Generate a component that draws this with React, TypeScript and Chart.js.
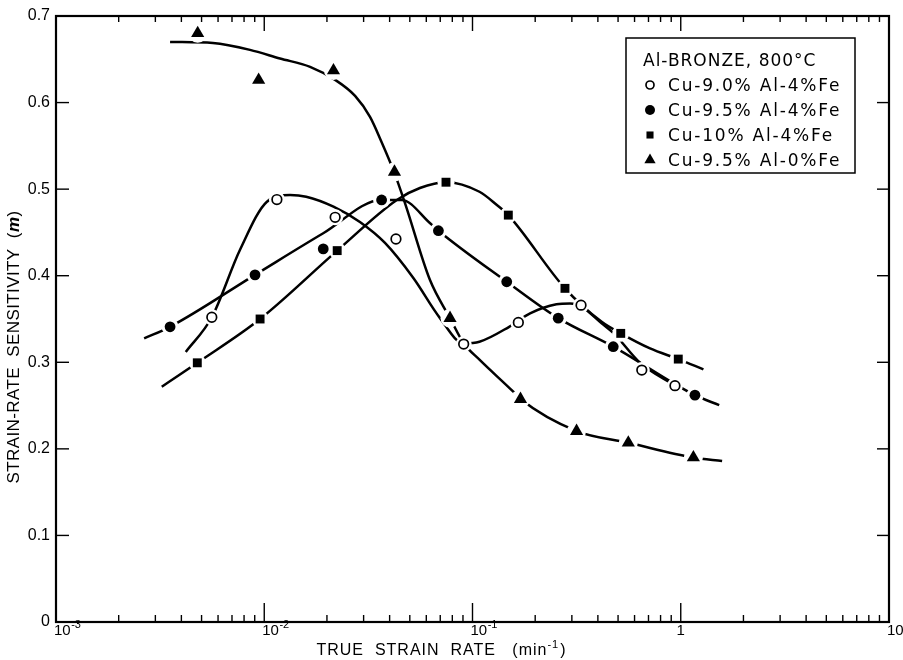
import React, { useEffect, useRef } from 'react';
import { Chart, registerables } from 'chart.js';
import { drawPoint } from 'chart.js/helpers';

Chart.register(...registerables);

// ---------- data ----------
// Cu-9.0% Al-4%Fe (open circles)
const openX = [0.0056, 0.0115, 0.0219, 0.0429, 0.0907, 0.166, 0.332, 0.65, 0.938];
const openY = [0.352, 0.488, 0.4675, 0.4424, 0.321, 0.346, 0.366, 0.291, 0.273];
const openCurveX = [0.0042, 0.0056, 0.00765, 0.0103, 0.0133, 0.0159, 0.0215, 0.0288, 0.038, 0.052, 0.0698, 0.0907, 0.108, 0.15, 0.189, 0.253, 0.294, 0.332, 0.353, 0.417, 0.474, 0.64, 0.938];
const openCurveY = [0.312, 0.352, 0.43, 0.4855, 0.4933, 0.4913, 0.4798, 0.462, 0.4378, 0.3973, 0.351, 0.3218, 0.3237, 0.341, 0.3565, 0.367, 0.368, 0.366, 0.3604, 0.345, 0.334, 0.299, 0.273];

// Cu-9.5% Al-4%Fe (filled circles)
const filledX = [0.00353, 0.00903, 0.0192, 0.0366, 0.0686, 0.146, 0.258, 0.474, 1.17];
const filledY = [0.341, 0.401, 0.431, 0.4875, 0.452, 0.393, 0.351, 0.318, 0.262];
const filledCurveX = [0.00265, 0.00353, 0.00903, 0.0192, 0.0366, 0.0457, 0.0626, 0.0686, 0.146, 0.258, 0.474, 1.17, 1.53];
const filledCurveY = [0.3276, 0.341, 0.401, 0.449, 0.4875, 0.4875, 0.4606, 0.452, 0.393, 0.351, 0.318, 0.262, 0.2505];

// Cu-10% Al-4%Fe (squares)
const squareX = [0.00477, 0.00955, 0.0224, 0.0746, 0.1486, 0.278, 0.515, 0.973];
const squareY = [0.2994, 0.35, 0.429, 0.508, 0.47, 0.3854, 0.3334, 0.3037];
const squareCurveX = [0.00322, 0.00477, 0.00955, 0.0224, 0.0433, 0.0559, 0.0746, 0.108, 0.1305, 0.1486, 0.278, 0.417, 0.515, 0.712, 0.973, 1.285];
const squareCurveY = [0.2717, 0.2994, 0.35, 0.429, 0.4875, 0.5013, 0.508, 0.497, 0.482, 0.47, 0.3854, 0.3467, 0.3334, 0.316, 0.3037, 0.2918];

// Cu-9.5% Al-0%Fe (triangles)
const triX = [0.00479, 0.0094, 0.0215, 0.0422, 0.078, 0.17, 0.316, 0.56, 1.15];
const triY = [0.68, 0.626, 0.637, 0.52, 0.351, 0.2575, 0.2205, 0.207, 0.19];
const triCurveX = [0.00353, 0.00567, 0.00854, 0.0119, 0.0166, 0.0219, 0.0273, 0.0322, 0.0364, 0.042, 0.0474, 0.0625, 0.078, 0.0907, 0.108, 0.157, 0.17, 0.316, 0.56, 1.15, 1.58];
const triCurveY = [0.67, 0.6687, 0.6609, 0.6509, 0.6413, 0.6262, 0.6077, 0.5835, 0.5557, 0.5199, 0.4839, 0.395, 0.351, 0.322, 0.303, 0.266, 0.2575, 0.2205, 0.207, 0.19, 0.186];

const legendTitle = 'Al-BRONZE, 800°C';
const legendLabels = ['Cu-9.0% Al-4%Fe', 'Cu-9.5% Al-4%Fe', 'Cu-10% Al-4%Fe', 'Cu-9.5% Al-0%Fe'];

// axis ticks
const xDecades = [0.001, 0.01, 0.1, 1, 10];
const xMinorSteps = [2, 3, 4, 5, 6, 7, 8, 9];
const xTickBases = ['10', '10', '10', '1', '10'];
const xTickPowers = ['-3', '-2', '-1', '', ''];
const yMin = 0;
const yMax = 0.7;
const yStep = 0.1;

const xTitleMain = 'TRUE  STRAIN  RATE   (min';
const xTitleSup = '-1';
const xTitleEnd = ')';
const yTitleMain = 'STRAIN-RATE  SENSITIVITY  (';
const yTitleVar = 'm';
const yTitleEnd = ')';

// ---------- styles ----------
const FONT = '"Liberation Sans", Arial, sans-serif';
const LEGEND_FONT = '"DejaVu Sans", "Liberation Sans", sans-serif';

const pts = (xs: number[], ys: number[]) => xs.map((x, i) => ({ x, y: ys[i] }));

const seriesDefs = [
  { label: legendLabels[0], mx: openX, my: openY, cx: openCurveX, cy: openCurveY, pointStyle: 'circle', radius: 4.8, bg: '#fff', bw: 1.7, halo: 8, legR: 4 },
  { label: legendLabels[1], mx: filledX, my: filledY, cx: filledCurveX, cy: filledCurveY, pointStyle: 'circle', radius: 5.4, bg: '#000', bw: 0, halo: 8.5, legR: 5 },
  { label: legendLabels[2], mx: squareX, my: squareY, cx: squareCurveX, cy: squareCurveY, pointStyle: 'rect', radius: 6.3, bg: '#000', bw: 0, halo: 8.5, legR: 5 },
  { label: legendLabels[3], mx: triX, my: triY, cx: triCurveX, cy: triCurveY, pointStyle: 'triangle', radius: 7.6, bg: '#000', bw: 0, halo: 9.5, legR: 6.5 },
];

const paperPlugin = {
  id: 'paper',
  afterDraw(chart: any) {
    const { ctx, chartArea: a } = chart;
    const x = chart.scales.x;
    const y = chart.scales.y;
    ctx.save();
    ctx.strokeStyle = '#000';
    ctx.fillStyle = '#000';
    // frame
    ctx.lineWidth = 2.2;
    ctx.strokeRect(a.left, a.top, a.right - a.left, a.bottom - a.top);

    const line = (x1: number, y1: number, x2: number, y2: number) => {
      ctx.beginPath();
      ctx.moveTo(x1, y1);
      ctx.lineTo(x2, y2);
      ctx.stroke();
    };

    // x ticks (inward, bottom and top)
    ctx.lineWidth = 1.4;
    x.ticks.forEach((t: any) => {
      if (t.value <= x.min || t.value >= x.max) return;
      const px = x.getPixelForValue(t.value);
      const lb = t.major ? 19 : 7;
      const lt = t.major ? 15 : 6;
      line(px, a.bottom, px, a.bottom - lb);
      line(px, a.top, px, a.top + lt);
    });
    // y ticks (inward, left and right)
    y.ticks.forEach((t: any) => {
      if (t.value <= y.min + 1e-9 || t.value >= y.max - 1e-9) return;
      const py = y.getPixelForValue(t.value);
      line(a.left, py, a.left + 13, py);
      line(a.right, py, a.right - 12, py);
    });

    // x tick labels with superscripts
    ctx.textBaseline = 'alphabetic';
    ctx.textAlign = 'left';
    xDecades.forEach((v, i) => {
      const px = x.getPixelForValue(v);
      const base = xTickBases[i];
      const pow = xTickPowers[i];
      ctx.font = `15px ${FONT}`;
      const w = ctx.measureText(base).width;
      const x0 = base.length === 1 ? px - w / 2 : px - 2;
      ctx.fillText(base, x0, a.bottom + 13);
      if (pow) {
        ctx.font = `11px ${FONT}`;
        ctx.fillText(pow, x0 + w + 0.5, a.bottom + 6);
      }
    });

    // x title
    ctx.font = `16px ${FONT}`;
    (ctx as any).letterSpacing = '1px';
    const wMain = ctx.measureText(xTitleMain).width;
    const wEnd = ctx.measureText(xTitleEnd).width;
    ctx.font = `11px ${FONT}`;
    const wSup = ctx.measureText(xTitleSup).width;
    const total = wMain + wSup + wEnd + 1;
    let tx = 441.5 - total / 2;
    const ty = a.bottom + 33;
    ctx.font = `16px ${FONT}`;
    ctx.fillText(xTitleMain, tx, ty);
    tx += wMain;
    ctx.font = `11px ${FONT}`;
    ctx.fillText(xTitleSup, tx, ty - 7);
    tx += wSup + 1;
    ctx.font = `16px ${FONT}`;
    ctx.fillText(xTitleEnd, tx, ty);

    // y title (rotated)
    ctx.save();
    ctx.translate(14, 347);
    ctx.rotate(-Math.PI / 2);
    ctx.textBaseline = 'middle';
    (ctx as any).letterSpacing = '0.4px';
    ctx.font = `17px ${FONT}`;
    const w1 = ctx.measureText(yTitleMain).width;
    const w3 = ctx.measureText(yTitleEnd).width;
    ctx.font = `italic bold 17px ${FONT}`;
    const w2 = ctx.measureText(yTitleVar).width;
    let yx = -(w1 + w2 + w3) / 2;
    ctx.font = `17px ${FONT}`;
    ctx.fillText(yTitleMain, yx, 0);
    yx += w1;
    ctx.font = `italic bold 17px ${FONT}`;
    ctx.fillText(yTitleVar, yx, 0);
    yx += w2;
    ctx.font = `17px ${FONT}`;
    ctx.fillText(yTitleEnd, yx, 0);
    ctx.restore();

    // legend box
    const bx = a.right - 263;
    const by = a.top + 22;
    ctx.lineWidth = 1.5;
    ctx.strokeRect(bx, by, 229, 135);
    (ctx as any).letterSpacing = '1px';
    ctx.font = `17px ${LEGEND_FONT}`;
    ctx.textBaseline = 'alphabetic';
    ctx.fillText(legendTitle, bx + 17, by + 28);
    (ctx as any).letterSpacing = '1.8px';
    seriesDefs.forEach((s, i) => {
      const base = by + 53 + i * 25;
      ctx.fillStyle = s.bg;
      ctx.strokeStyle = '#000';
      ctx.lineWidth = s.bw;
      drawPoint(ctx, { pointStyle: s.pointStyle as any, radius: s.legR, borderWidth: s.bw, rotation: 0 }, bx + 24, base - 6);
      ctx.fillStyle = '#000';
      ctx.fillText(s.label, bx + 42, base);
    });

    ctx.restore();
  },
};

function buildConfig(): any {
  const datasets: any[] = [];
  seriesDefs.forEach((s) => {
    datasets.push({
      type: 'line',
      label: s.label + ' fit',
      data: pts(s.cx, s.cy),
      borderColor: '#000',
      borderWidth: 2.5,
      pointRadius: 0,
      cubicInterpolationMode: 'monotone',
      fill: false,
      order: 3,
    });
  });
  seriesDefs.forEach((s) => {
    datasets.push({
      type: 'scatter',
      label: s.label + ' halo',
      data: pts(s.mx, s.my),
      pointStyle: 'circle',
      pointRadius: s.halo,
      pointBackgroundColor: '#fff',
      pointBorderWidth: 0,
      order: 2,
    });
  });
  seriesDefs.forEach((s) => {
    datasets.push({
      type: 'scatter',
      label: s.label,
      data: pts(s.mx, s.my),
      pointStyle: s.pointStyle,
      pointRadius: s.radius,
      pointBackgroundColor: s.bg,
      pointBorderColor: '#000',
      pointBorderWidth: s.bw,
      order: 1,
    });
  });

  return {
    type: 'scatter',
    data: { datasets },
    options: {
      animation: false,
      responsive: false,
      devicePixelRatio: 1,
      events: [],
      layout: { padding: { top: 16, right: 14, left: 0, bottom: 0 } },
      plugins: { legend: { display: false }, tooltip: { enabled: false } },
      scales: {
        x: {
          type: 'logarithmic',
          min: xDecades[0],
          max: xDecades[xDecades.length - 1],
          grid: { display: false, drawTicks: false },
          border: { display: false },
          ticks: { display: false },
          afterBuildTicks: (scale: any) => {
            const ticks: any[] = [];
            xDecades.forEach((d, i) => {
              ticks.push({ value: d, major: true });
              if (i < xDecades.length - 1) xMinorSteps.forEach((k) => ticks.push({ value: k * d, major: false }));
            });
            scale.ticks = ticks;
          },
          afterFit: (scale: any) => {
            scale.height = 38;
          },
        },
        y: {
          type: 'linear',
          min: yMin,
          max: yMax,
          grid: { display: false, drawTicks: false },
          border: { display: false },
          ticks: {
            stepSize: yStep,
            color: '#000',
            padding: 6,
            font: { family: FONT, size: 16 },
            callback: (v: number) => (Math.abs(v) < 1e-9 ? '0' : Number(v).toFixed(1)),
          },
          afterFit: (scale: any) => {
            scale.width = 56;
          },
        },
      },
    },
    plugins: [paperPlugin],
  };
}

export default function App() {
  const ref = useRef<HTMLCanvasElement>(null);
  useEffect(() => {
    if (!ref.current) return;
    const chart = new Chart(ref.current, buildConfig());
    return () => chart.destroy();
  }, []);
  return (
    <div style={{ position: 'fixed', left: 0, top: 0, width: 903, height: 660, background: '#fff' }}>
      <canvas ref={ref} width={903} height={660} style={{ display: 'block', width: 903, height: 660 }} />
    </div>
  );
}
